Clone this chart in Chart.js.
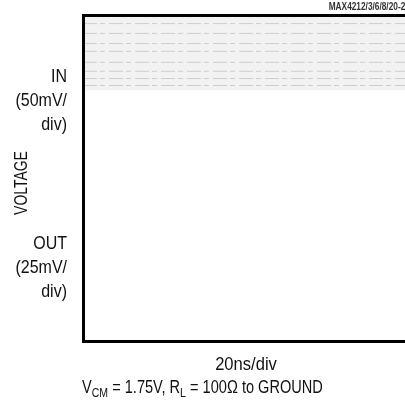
<!DOCTYPE html>
<html>
<head>
<meta charset="utf-8">
<script src="https://cdn.jsdelivr.net/npm/chart.js@4.4.1/dist/chart.umd.min.js"></script>
<style>
  html, body { margin: 0; padding: 0; background: #fff; overflow: hidden; }
  #wrap { position: relative; width: 405px; height: 401px; overflow: hidden; }
  #box { position: absolute; left: 0; top: 0; width: 420px; height: 401px; }
  .lbl { position: absolute; font-family: "Liberation Sans", Arial, sans-serif; color: #111; font-size: 18px; line-height: 1; white-space: nowrap; }
  .r { text-align: right; }
  sub { font-size: 13px; vertical-align: -4px; line-height: 0; }
</style>
</head>
<body>
<div id="wrap">
  <div id="box"><canvas id="c"></canvas></div>
  <div class="lbl" id="code" style="right:0; top:2px; font-size:10px; font-weight:bold; color:#333; transform: scaleX(0.83); transform-origin: right center;">MAX4212/3/6/8/20-2</div>
  <div class="lbl r" id="inL" style="right:338px; top:64px; line-height:24px; transform: scaleX(0.89); transform-origin: right center;">IN<br>(50mV/<br>div)</div>
  <div class="lbl" id="volt" style="left:21px; top:183px; transform: translate(-50%,-50%) rotate(-90deg) scaleX(0.775);">VOLTAGE</div>
  <div class="lbl r" id="outL" style="right:338px; top:231px; line-height:24px; transform: scaleX(0.89); transform-origin: right center;">OUT<br>(25mV/<br>div)</div>
  <div class="lbl" id="xt" style="left:246px; top:364px; transform: translate(-50%,-50%) scaleX(0.92);">20ns/div</div>
  <div class="lbl" id="cond" style="left:82px; top:378px; transform: scaleX(0.81); transform-origin: left center;">V<sub>CM</sub> = 1.75V, R<sub>L</sub> = 100Ω to GROUND</div>
</div>
<script>
// time axis: 10 divisions (20ns/div); voltage axis: 8 divisions
const xDivs = [0, 10];
const yDivs = [0, 8];
// faint scope traces (in vertical divisions)
const traceLevels = [7.80, 7.56, 7.31, 7.12, 6.85, 6.63, 6.45, 6.28];
// noisy band extent (divisions)
const bandTop = 8.0;
const bandBottom = 6.16;

const datasets = [];
datasets.push({
  label: 'band',
  data: xDivs.map(x => ({x: x, y: bandBottom})),
  borderWidth: 0,
  pointRadius: 0,
  fill: 'end',
  backgroundColor: 'rgba(0,0,0,0.05)'
});
traceLevels.forEach((lv, i) => {
  datasets.push({
    label: 'trace' + i,
    data: xDivs.map(x => ({x: x, y: lv})),
    borderColor: 'rgba(0,0,0,0.16)',
    borderWidth: 1,
    borderDash: [14, 3, 5, 4],
    pointRadius: 0,
    fill: false
  });
});

const zeroW = s => { s.width = 0; };
const zeroH = s => { s.height = 0; };

new Chart(document.getElementById('c'), {
  type: 'line',
  data: { datasets },
  options: {
    responsive: true,
    maintainAspectRatio: false,
    animation: false,
    events: [],
    layout: { padding: { left: 83, top: 15.5, bottom: 60, right: 0 } },
    plugins: { legend: { display: false }, tooltip: { enabled: false } },
    scales: {
      x: {
        type: 'linear', position: 'bottom', min: xDivs[0], max: xDivs[1],
        grid: { display: false, drawTicks: false },
        ticks: { display: false },
        border: { display: true, color: '#000', width: 3 },
        afterFit: zeroH
      },
      x2: {
        type: 'linear', axis: 'x', position: 'top', min: xDivs[0], max: xDivs[1],
        grid: { display: false, drawTicks: false },
        ticks: { display: false },
        border: { display: true, color: '#000', width: 3 },
        afterFit: zeroH
      },
      y: {
        type: 'linear', position: 'left', min: yDivs[0], max: yDivs[1],
        grid: { display: false, drawTicks: false },
        ticks: { display: false },
        border: { display: true, color: '#000', width: 3 },
        afterFit: zeroW
      }
    }
  }
});
</script>
</body>
</html>
